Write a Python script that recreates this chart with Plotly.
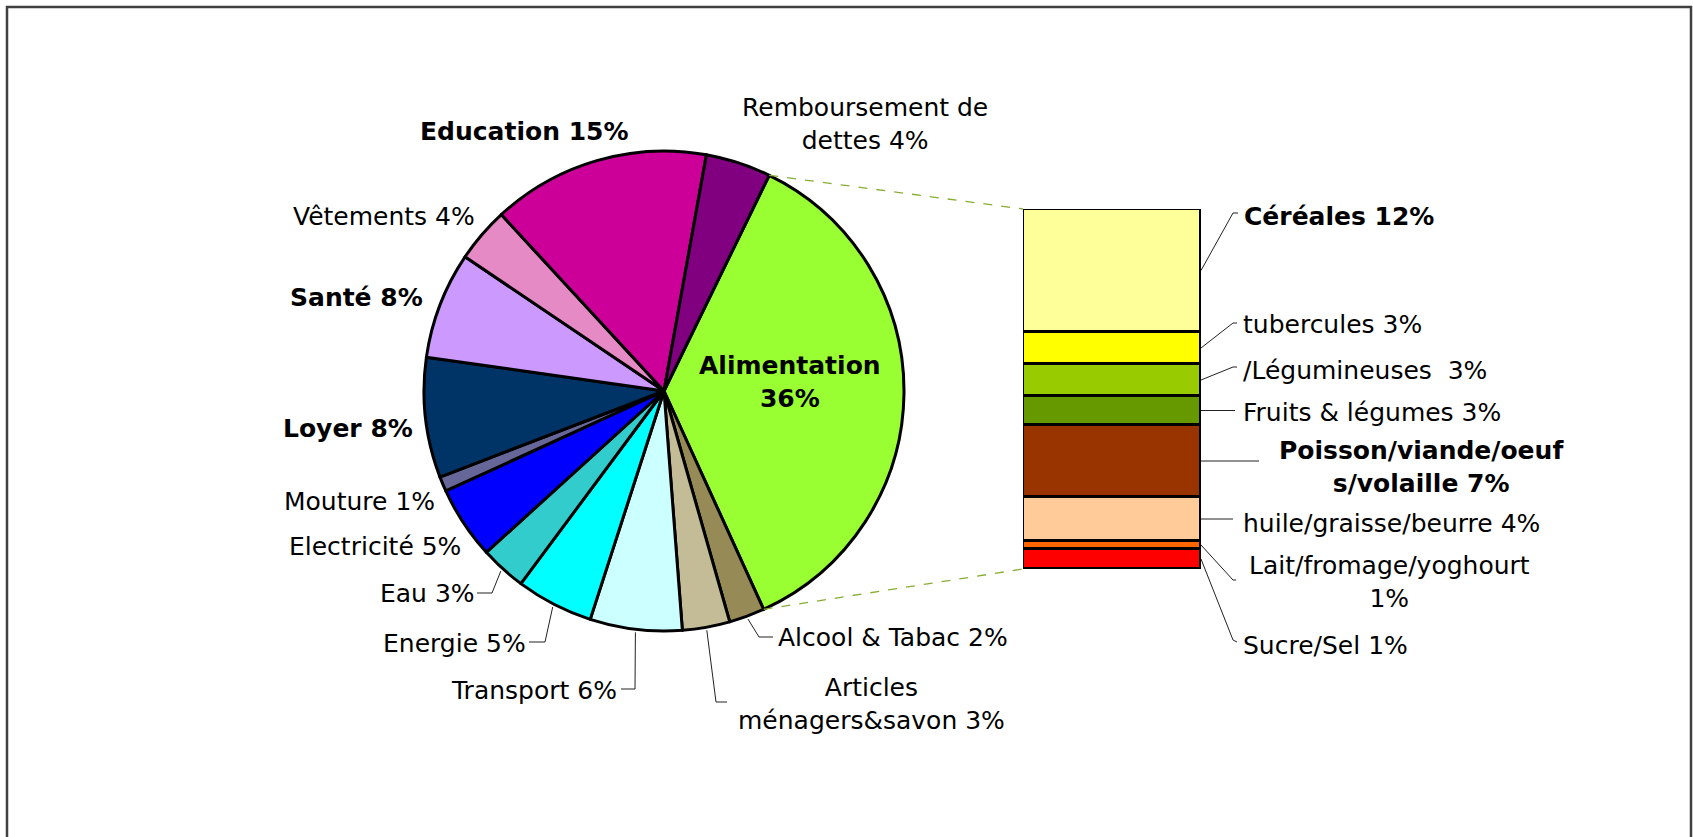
import math
import plotly.graph_objects as go

# ---- data -------------------------------------------------------------------
pie_labels = ["Alimentation", "Alcool & Tabac", "Articles ménagers&savon",
              "Transport", "Energie", "Eau", "Electricité", "Mouture",
              "Loyer", "Santé", "Vêtements", "Education",
              "Remboursement de dettes"]
pie_values = [36.0, 2.4, 3.2, 6.2, 5.2, 3.1, 4.9, 1.0, 8.1, 7.2, 3.7, 14.7, 4.4]
pie_texts = ["Alimentation<br>36%", "Alcool & Tabac 2%",
             "Articles<br>ménagers&savon 3%", "Transport 6%", "Energie 5%",
             "Eau 3%", "Electricité 5%", "Mouture 1%", "Loyer 8%", "Santé 8%",
             "Vêtements 4%", "Education 15%", "Remboursement de<br>dettes 4%"]
pie_colors = ["#99FF33", "#968B57", "#C4BC96", "#CCFFFF", "#00FFFF", "#33CCCC",
              "#0000FF", "#666699", "#003366", "#CC99FF", "#E68AC6", "#CC0099",
              "#800080"]

# bottom to top
bar_labels = ["Sucre/Sel", "Lait/fromage/yoghourt", "huile/graisse/beurre",
              "Poisson/viande/oeufs/volaille", "Fruits & légumes",
              "Légumineuses", "tubercules", "Céréales"]
bar_values = [2.0, 0.8, 4.4, 7.2, 2.9, 3.2, 3.2, 12.3]
bar_texts = ["Sucre/Sel 1%", "Lait/fromage/yoghourt<br>1%",
             "huile/graisse/beurre 4%", "Poisson/viande/oeuf<br>s/volaille 7%",
             "Fruits & légumes 3%", "/Légumineuses\u00a0 3%", "tubercules 3%",
             "Céréales 12%"]
bar_colors = ["#FF0000", "#FF6600", "#FFCC99", "#993300", "#669900",
              "#99CC00", "#FFFF00", "#FFFF99"]

# ---- geometry (pixels) ------------------------------------------------------
W, H = 1693, 837
PIE_CX, PIE_CY, PIE_R = 664, 391, 240
ROTATION = 26
BAR_X0, BAR_X1, BAR_TOP, BAR_BOT = 1023, 1201, 209, 569


def px(x):
    return x / W


def py(y):
    return 1 - y / H


def pie_point(frac, r=PIE_R):
    a = math.radians(ROTATION + 360 * frac)
    return PIE_CX + r * math.sin(a), PIE_CY - r * math.cos(a)


total_pie = sum(pie_values)
cum = [0]
for v in pie_values:
    cum.append(cum[-1] + v)

bar_total = sum(bar_values)
bar_cum = [0]
for v in bar_values:
    bar_cum.append(bar_cum[-1] + v)


def bar_y(val):
    return BAR_BOT - (BAR_BOT - BAR_TOP) * val / bar_total


fig = go.Figure()

fig.add_trace(go.Pie(
    labels=pie_labels, values=pie_values, sort=False, direction="clockwise",
    rotation=ROTATION, textinfo="none", hoverinfo="label+percent",
    marker=dict(colors=pie_colors, line=dict(color="black", width=3)),
    domain=dict(x=[px(PIE_CX - PIE_R), px(PIE_CX + PIE_R)],
                y=[py(PIE_CY + PIE_R), py(PIE_CY - PIE_R)]),
    showlegend=False,
))

for lab, val, col in zip(bar_labels, bar_values, bar_colors):
    fig.add_trace(go.Bar(
        x=[0], y=[val], name=lab, width=1, showlegend=False,
        marker=dict(color=col, line=dict(color="black", width=3)),
        hoverinfo="name+y",
    ))

shapes = []
# frame
shapes.append(dict(type="rect", xref="paper", yref="paper",
                   x0=px(7), x1=px(1691), y0=py(7), y1=-0.05,
                   line=dict(color="#404040", width=2.5)))

# dashed connectors pie -> bar
p_top = pie_point(0)
p_bot = pie_point(pie_values[0] / total_pie)
for (x0, y0), (x1, y1) in [(p_top, (BAR_X0, BAR_TOP)), (p_bot, (BAR_X0, BAR_BOT))]:
    shapes.append(dict(type="line", xref="paper", yref="paper",
                       x0=px(x0), y0=py(y0), x1=px(x1), y1=py(y1),
                       line=dict(color="#86AE32", width=1.3, dash="dash")))


def polyline(points):
    path = "M " + " L ".join(f"{px(x)},{py(y)}" for x, y in points)
    return dict(type="path", xref="paper", yref="paper", path=path,
                line=dict(color="#222222", width=1))


# pie leader lines: slice index -> elbow points
pie_leaders = {
    1: [(759, 637), (773, 637)],
    2: [(716, 702), (727, 702)],
    3: [(635, 689), (621, 689)],
    4: [(545, 642), (529, 642)],
    5: [(492, 593), (477, 593)],
}
for i, pts in pie_leaders.items():
    mid = (cum[i] + cum[i + 1]) / 2 / total_pie
    shapes.append(polyline([pie_point(mid, PIE_R + 3)] + pts))

# bar leader lines
bar_leaders = {
    7: [(1233, 213), (1238, 213)],
    6: [(1233, 323), (1237, 323)],
    5: [(1233, 367), (1237, 367)],
    4: [(1235, None)],
    3: [(1259, None)],
    2: [(1233, None)],
    1: [(1233, 580), (1236, 580)],
    0: [(1233, 640), (1237, 642)],
}
for i, pts in bar_leaders.items():
    ym = bar_y((bar_cum[i] + bar_cum[i + 1]) / 2)
    pts = [(x, ym if y is None else y) for x, y in pts]
    shapes.append(polyline([(BAR_X1, ym)] + pts))

FONT = "DejaVu Sans"
annotations = []


def label(text, x, y, anchor="center", bold=False):
    if bold:
        text = "<br>".join(f"<b>{t}</b>" for t in text.split("<br>"))
    annotations.append(dict(text=text, x=px(x), y=py(y), xref="paper",
                            yref="paper", xanchor=anchor, yanchor="middle",
                            align="center", showarrow=False, borderpad=0,
                            font=dict(family=FONT, size=25, color="black")))


pie_pos = [(790, 382, "center"), (777, 637, "left"), (871, 704, "center"),
           (618, 690, "right"), (527, 643, "right"), (476, 593, "right"),
           (375, 546, "center"), (359, 501, "center"), (348, 428, "center"),
           (356, 297, "center"), (384, 216, "center"), (524, 132, "center"),
           (865, 124, "center")]
pie_bold = [True, False, False, False, False, False, False, False, True,
            True, False, True, False]
for t, (x, y, a), b in zip(pie_texts, pie_pos, pie_bold):
    label(t, x, y, a, b)

bar_pos = [(1242, 645, "left"), (1389, 582, "center"), (1242, 523, "left"),
           (1421, 467, "center"), (1242, 413, "left"), (1242, 370, "left"),
           (1242, 324, "left"), (1243, 216, "left")]
bar_bold = [False, False, False, True, False, False, False, True]
for t, (x, y, a), b in zip(bar_texts, bar_pos, bar_bold):
    label(t, x, y, a, b)

fig.update_layout(
    width=W, height=H,
    margin=dict(l=0, r=0, t=0, b=0),
    paper_bgcolor="white", plot_bgcolor="white",
    barmode="stack", bargap=0,
    xaxis=dict(domain=[px(BAR_X0), px(BAR_X1)], range=[-0.5, 0.5],
               visible=False, fixedrange=True),
    yaxis=dict(domain=[py(BAR_BOT), py(BAR_TOP)], range=[0, bar_total],
               visible=False, fixedrange=True),
    shapes=shapes,
    annotations=annotations,
    font=dict(family=FONT),
)

# drop the default page margin so the figure sits at the window origin
fig.write_html("out.html", config={"displayModeBar": False},
               post_script="document.body.style.margin = '0';")
